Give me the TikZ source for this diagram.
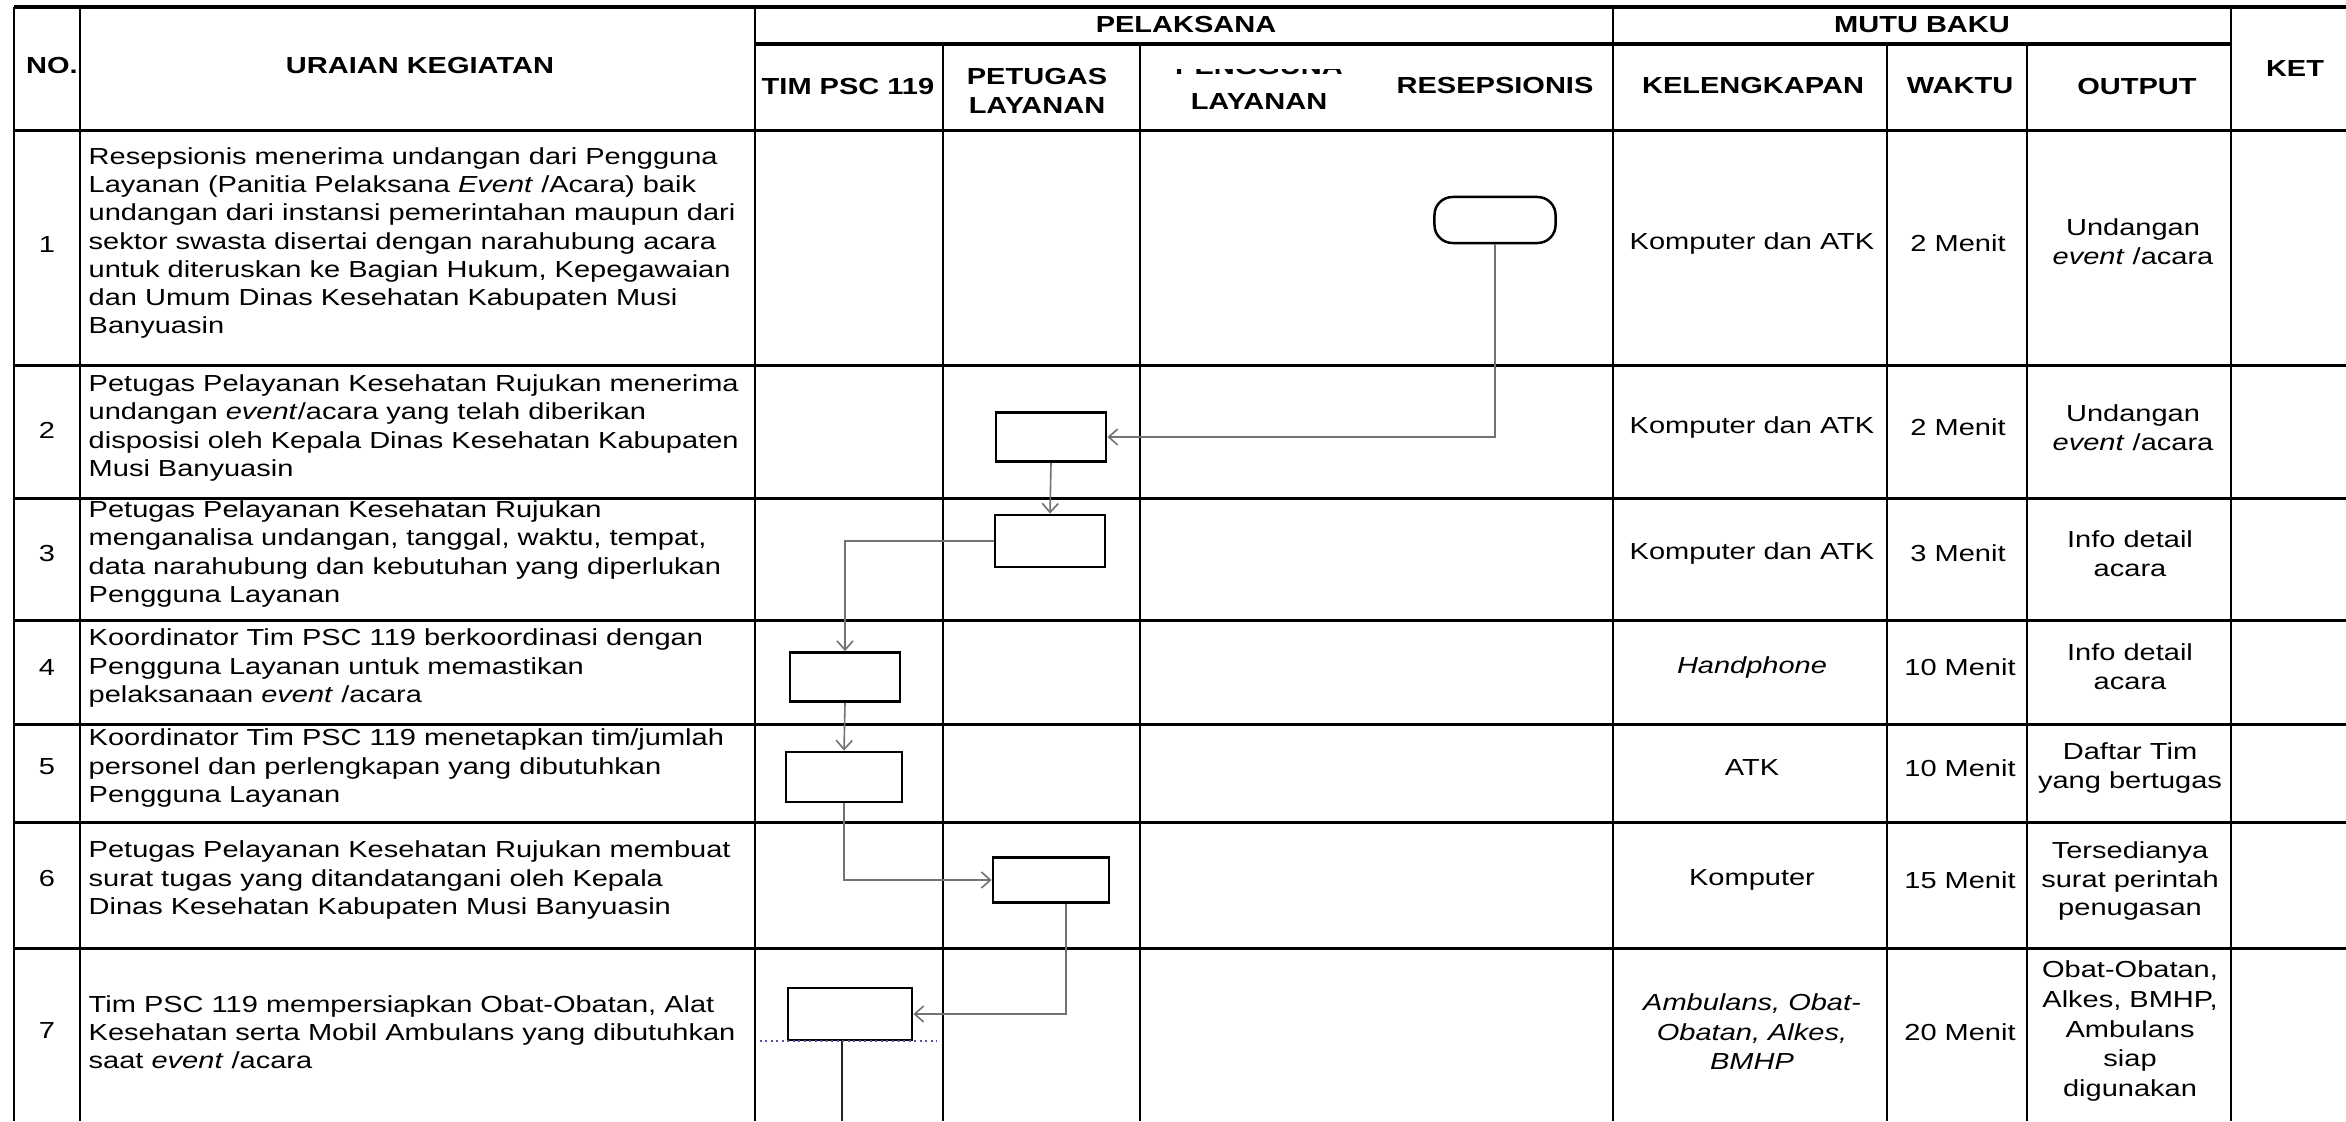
\documentclass[tikz,border=0pt]{standalone}
\usepackage{fontspec}
\setmainfont{Liberation Sans}[FakeStretch=1.25]
\usetikzlibrary{positioning,arrows.meta}

\begin{document}
\begin{tikzpicture}[x=0.01cm, y=-0.01cm,
    hline/.style={line width=0.03cm},
    vline/.style={line width=0.025cm},
    hdr/.style={font=\fontsize{6.6}{8.3}\selectfont\bfseries, align=center, inner sep=0pt},
    num/.style={font=\fontsize{6.6}{8.05}\selectfont, inner sep=0pt},
    desc/.style={font=\fontsize{6.6}{8.05}\selectfont, align=left, anchor=west, inner sep=0pt},
    cell/.style={font=\fontsize{6.6}{8.2}\selectfont, align=center, inner sep=0pt},
    term/.style={rectangle, draw, line width=0.025cm, rounded corners=0.18cm,
                 minimum width=1.21cm, minimum height=0.46cm},
    proc/.style={rectangle, draw, line width=0.028cm, fill=white,
                 minimum width=1.1cm, minimum height=0.49cm},
    conn/.style={draw=black!55, line width=0.016cm, -{Straight Barb[length=0.09cm, width=0.16cm]}},
  ]

  \useasboundingbox (0,0) rectangle (2346,1121);
  \fill[white] (0,0) rectangle (2346,1121);

  % table frame
  \draw[hline] (14,7) -- (2346,7);
  \draw[hline] (755,44) -- (2231,44);
  \foreach \y in {130,365,498,620,724,822,948}
    \draw[hline] (14,\y) -- (2346,\y);
  \foreach \x in {14,80,755,1613,2231}
    \draw[vline] (\x,7) -- (\x,1121);
  \foreach \x in {943,1140,1887,2027}
    \draw[vline] (\x,44) -- (\x,1121);

  % header
  \node[hdr] (hno) at (52,66) {NO.};
  \node[hdr] (hurai) at (420,66) {URAIAN KEGIATAN};
  \node[hdr] (hpel) at (1186,25) {PELAKSANA};
  \node[hdr] (hmutu) at (1922,25) {MUTU BAKU};
  \node[hdr] (hket) at (2295,69) {KET};
  \node[hdr, anchor=west] (htim) at (761,87) {TIM PSC 119};
  \node[hdr] (hpet) at (1037,91) {PETUGAS\\LAYANAN};
  \begin{scope}
    \clip (1142,69) rectangle (1400,130);
    \node[hdr, font=\fontsize{6.6}{10}\selectfont\bfseries] (hpeng) at (1259,84) {PENGGUNA\\LAYANAN};
  \end{scope}
  \node[hdr] (hres) at (1495,86) {RESEPSIONIS};
  \node[hdr] (hkel) at (1753,86) {KELENGKAPAN};
  \node[hdr] (hwak) at (1960,86) {WAKTU};
  \node[hdr] (hout) at (2137,87) {OUTPUT};

  % row numbers
  \node[num] (n1) at (47,245) {1};
  \node[num] (n2) at (47,430) {2};
  \node[num] (n3) at (47,553) {3};
  \node[num] (n4) at (47,668) {4};
  \node[num] (n5) at (47,767) {5};
  \node[num] (n6) at (47,878) {6};
  \node[num] (n7) at (47,1030) {7};

  % uraian kegiatan
  \node[desc] (d1) at (88,243) {Resepsionis menerima undangan dari Pengguna\\
    Layanan (Panitia Pelaksana \textit{Event} /Acara) baik\\
    undangan dari instansi pemerintahan maupun dari\\
    sektor swasta disertai dengan narahubung acara\\
    untuk diteruskan ke Bagian Hukum, Kepegawaian\\
    dan Umum Dinas Kesehatan Kabupaten Musi\\
    Banyuasin};
  \node[desc] (d2) at (88,428) {Petugas Pelayanan Kesehatan Rujukan menerima\\
    undangan \textit{event}/acara yang telah diberikan\\
    disposisi oleh Kepala Dinas Kesehatan Kabupaten\\
    Musi Banyuasin};
  \node[desc] (d3) at (88,554) {Petugas Pelayanan Kesehatan Rujukan\\
    menganalisa undangan, tanggal, waktu, tempat,\\
    data narahubung dan kebutuhan yang diperlukan\\
    Pengguna Layanan};
  \node[desc] (d4) at (88,668) {Koordinator Tim PSC 119 berkoordinasi dengan\\
    Pengguna Layanan untuk memastikan\\
    pelaksanaan \textit{event} /acara};
  \node[desc] (d5) at (88,768) {Koordinator Tim PSC 119 menetapkan tim/jumlah\\
    personel dan perlengkapan yang dibutuhkan\\
    Pengguna Layanan};
  \node[desc] (d6) at (88,880) {Petugas Pelayanan Kesehatan Rujukan membuat\\
    surat tugas yang ditandatangani oleh Kepala\\
    Dinas Kesehatan Kabupaten Musi Banyuasin};
  \node[desc] (d7) at (88,1032) {Tim PSC 119 mempersiapkan Obat-Obatan, Alat\\
    Kesehatan serta Mobil Ambulans yang dibutuhkan\\
    saat \textit{event} /acara};

  % mutu baku
  \node[cell] (k1) at (1752,243) {Komputer dan ATK};
  \node[cell] (w1) at (1958,243) {2 Menit};
  \node[cell] (o1) at (2133,242) {Undangan\\\textit{event} /acara};
  \node[cell] (k2) at (1752,427) {Komputer dan ATK};
  \node[cell] (w2) at (1958,427) {2 Menit};
  \node[cell] (o2) at (2133,428) {Undangan\\\textit{event} /acara};
  \node[cell] (k3) at (1752,553) {Komputer dan ATK};
  \node[cell] (w3) at (1958,553) {3 Menit};
  \node[cell] (o3) at (2130,554) {Info detail\\acara};
  \node[cell] (k4) at (1752,667) {\textit{Handphone}};
  \node[cell] (w4) at (1960,667) {10 Menit};
  \node[cell] (o4) at (2130,667) {Info detail\\acara};
  \node[cell] (k5) at (1752,768) {ATK};
  \node[cell] (w5) at (1960,768) {10 Menit};
  \node[cell] (o5) at (2130,768) {Daftar Tim\\yang bertugas};
  \node[cell] (k6) at (1752,880) {Komputer};
  \node[cell] (w6) at (1960,880) {15 Menit};
  \node[cell] (o6) at (2130,881) {Tersedianya\\surat perintah\\penugasan};
  \node[cell, font=\fontsize{6.6}{8.4}\selectfont\itshape] (k7) at (1752,1032) {Ambulans, Obat-\\Obatan, Alkes,\\BMHP};
  \node[cell] (w7) at (1960,1032) {20 Menit};
  \node[cell, font=\fontsize{6.6}{8.4}\selectfont] (o7) at (2130,1031) {Obat-Obatan,\\Alkes, BMHP,\\Ambulans\\siap\\digunakan};

  % flow shapes
  \node[term] (start) at (1495,220) {};
  \node[proc] (b2) at (1051,437) {};
  \node[proc, minimum height=0.52cm] (b3) at (1050,541) {};
  \node[proc] (b4) at (845,677) {};
  \node[proc, minimum width=1.16cm, minimum height=0.5cm] (b5) at (844,777) {};
  \node[proc, minimum width=1.16cm, minimum height=0.45cm] (b6) at (1051,880) {};
  \node[proc, minimum width=1.24cm, minimum height=0.52cm] (b7) at (850,1014) {};
  \coordinate (b7end) at (842,1121);

  % connectors
  \draw[conn] (start.south) |- (b2.east);
  \draw[conn] (b2.south) -- (b3.north);
  \draw[conn] (b3.west) -| (b4.north);
  \draw[conn] (b4.south) -- (b5.north);
  \draw[conn] (b5.south) |- (b6.west);
  \draw[conn] ([xshift=0.15cm]b6.south) |- (b7.east);
  \draw[conn, -, draw=black!85] (b7.south -| b7end) -- (b7end);
  \draw[densely dotted, draw=blue!35!gray, line width=0.02cm]
    ([xshift=-0.27cm]b7.south west) -- ([xshift=0.23cm]b7.south east);

\end{tikzpicture}
\end{document}
